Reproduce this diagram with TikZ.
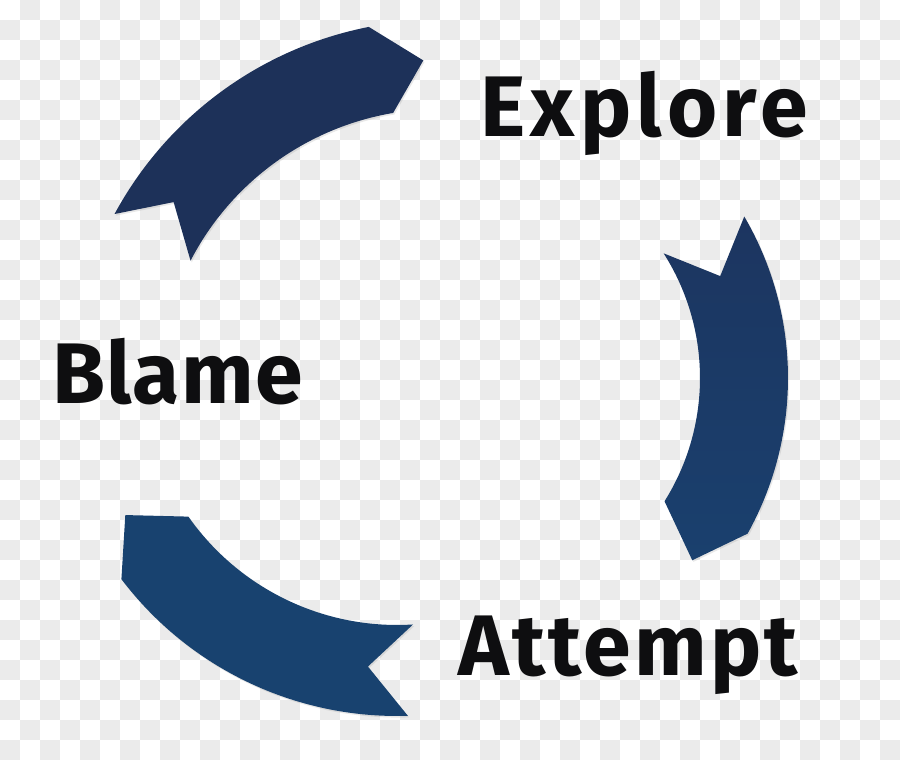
\documentclass[tikz,border=0pt]{standalone}
\usepackage{fontspec}
\setmainfont{Fira Sans}
\usetikzlibrary{shadows}
\definecolor{colTile}{HTML}{EBEBEB}
\definecolor{colArrowTop}{HTML}{1D3159}
\definecolor{colArrowMidA}{HTML}{1C3560}
\definecolor{colArrowMidB}{HTML}{1A406E}
\definecolor{colArrowLow}{HTML}{18426F}
\definecolor{colText}{HTML}{0E0E10}
\tikzset{
  arrowBand/.style={draw=none,
    drop shadow={shadow xshift=1.2pt, shadow yshift=-1.6pt, opacity=.18}},
  cycleLabel/.style={font=\fontsize{86}{90}\selectfont\bfseries\addfontfeatures{LetterSpace=#1},
    text=colText, anchor=base west, inner sep=0pt},
  cycleLabel/.default=3,
}

\begin{document}
\begin{tikzpicture}[x=1pt, y=1pt]
    \useasboundingbox (0,0) rectangle (900,760);
    \fill[white] (0,0) rectangle (900,760);
    % checkered backdrop
    \foreach \j in {0,...,37}{
      \pgfmathtruncatemacro\first{mod(\j+1,2)}
      \pgfmathtruncatemacro\second{\first+2}
      \foreach \i in {\first,\second,...,44}
        \fill[colTile] (20*\i, 740-20*\j) rectangle ++(20,20);
    }

    % blame -> explore
    \begin{scope}[shift={(440,370)}]
      \fill[arrowBand, colArrowTop] (151.6:370) -- (144.8:326) -- (152.6:281)
        arc[start angle=152.6, end angle=99.6, radius=281] -- (92.9:330) -- (101.1:370)
        arc[start angle=101.1, end angle=151.6, radius=370] -- cycle;
    \end{scope}
    % explore -> attempt
    \begin{scope}[shift={(468,382)}]
      \path[arrowBand, top color=colArrowMidA, bottom color=colArrowMidB]
        (30.3:320) -- (22:272) -- (32.5:232)
        arc[start angle=32.5, end angle=-32.1, radius=232] -- (-39.1:289) -- (-29.1:320)
        arc[start angle=-29.1, end angle=30.3, radius=320] -- cycle;
    \end{scope}
    % attempt -> blame
    \begin{scope}[shift={(397,390)}]
      \fill[arrowBand, colArrowLow] (-88.2:346) -- (-95.6:298) -- (-86.4:255)
        arc[start angle=-86.4, end angle=-144.9, radius=255] -- (-151.9:308) -- (-142.8:346)
        arc[start angle=-142.8, end angle=-88.2, radius=346] -- cycle;
    \end{scope}

    \node[cycleLabel=6.2] (explore) at (480,623) {Explore};
    \node[cycleLabel=1.5] (blame) at (52,356) {Blame};
    \node[cycleLabel=3.8] (attempt) at (458,84) {Attempt};
\end{tikzpicture}
\end{document}
